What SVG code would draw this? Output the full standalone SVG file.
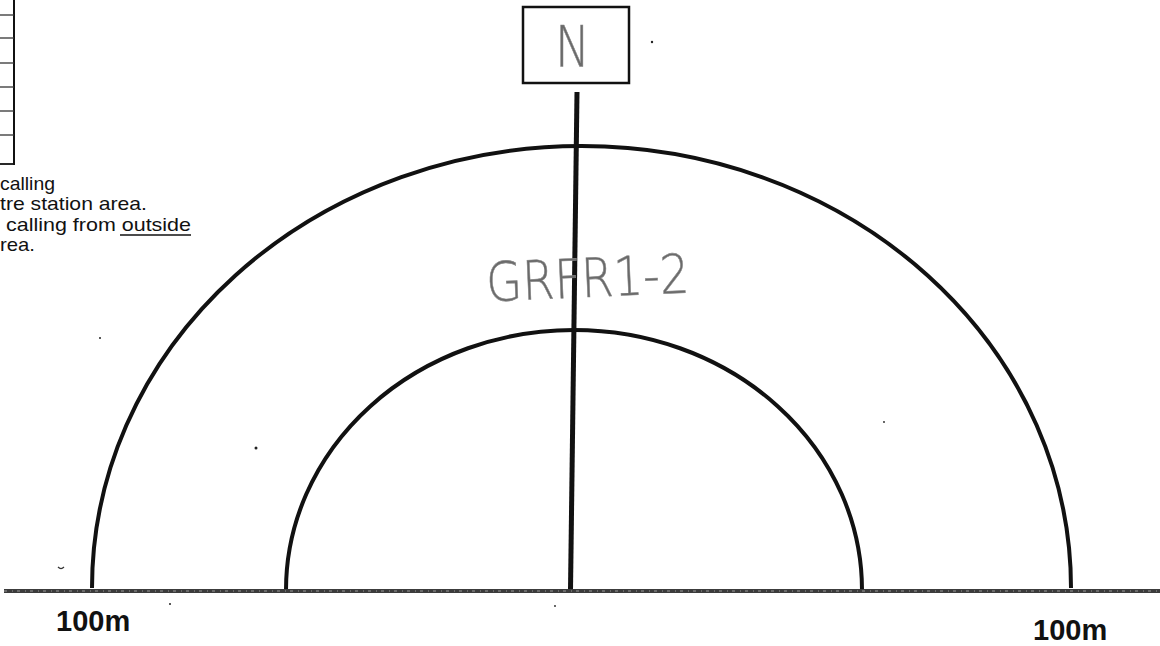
<svg xmlns="http://www.w3.org/2000/svg" width="1160" height="646" viewBox="0 0 1160 646">
  <style>
    .arch { fill: none; stroke: #111; stroke-width: 4; }
    .grid { stroke: #333; stroke-width: 1.3; }
    .note { font-family: "Liberation Sans", Arial, sans-serif; font-size: 19px; fill: #111; }
    .scale { font-family: "Liberation Sans", Arial, sans-serif; font-size: 29px; font-weight: bold; fill: #111; }
    .hand { font-family: "DejaVu Sans", sans-serif; font-weight: 200; fill: #6a6a6a; stroke: #888; stroke-width: 0.6; }
    .dot { fill: #222; }
  </style>
  <rect width="1160" height="646" fill="#ffffff"/>

  <!-- partial table at top-left -->
  <g id="table">
    <line x1="14" y1="0" x2="14" y2="165" stroke="#111" stroke-width="2"/>
    <line class="grid" x1="0" y1="15" x2="14" y2="15"/>
    <line class="grid" x1="0" y1="38" x2="14" y2="38"/>
    <line class="grid" x1="0" y1="63" x2="14" y2="63"/>
    <line class="grid" x1="0" y1="87" x2="14" y2="87"/>
    <line class="grid" x1="0" y1="111" x2="14" y2="111"/>
    <line class="grid" x1="0" y1="135" x2="14" y2="135"/>
    <line x1="0" y1="164" x2="15" y2="164" stroke="#111" stroke-width="1.8"/>
  </g>

  <!-- notes -->
  <g id="notes">
    <text class="note" x="0" y="190" textLength="55" lengthAdjust="spacingAndGlyphs">calling</text>
    <text class="note" x="0" y="210" textLength="147" lengthAdjust="spacingAndGlyphs">tre station area.</text>
    <text class="note" x="6" y="231" textLength="185" lengthAdjust="spacingAndGlyphs">calling from outside</text>
    <line x1="120" y1="235" x2="191" y2="235" stroke="#111" stroke-width="1.3"/>
    <text class="note" x="0" y="251" textLength="35" lengthAdjust="spacingAndGlyphs">rea.</text>
  </g>

  <!-- north marker -->
  <g id="north">
    <rect x="523" y="7" width="106" height="76" fill="none" stroke="#111" stroke-width="2.5"/>
    <text class="hand" x="555" y="67" font-size="57" textLength="35" lengthAdjust="spacingAndGlyphs">N</text>
  </g>

  <!-- arches -->
  <g id="outer-arch">
    <path class="arch" d="M92,588 A489.5,442 0 0 1 1071,588"/>
  </g>
  <g id="inner-arch">
    <path class="arch" d="M286,590 A288,260 0 0 1 862,590"/>
  </g>

  <!-- connectors: north line and base line -->
  <g id="connectors">
    <line x1="577" y1="92" x2="570.5" y2="590" stroke="#111" stroke-width="5"/>
    <line x1="4" y1="591" x2="1160" y2="591" stroke="#3c3c3c" stroke-width="4"/>
    <line x1="4" y1="591" x2="1160" y2="591" stroke="#9a9a9a" stroke-width="1" stroke-dasharray="3 5 1 4"/>
  </g>

  <!-- handwritten label -->
  <g id="label">
    <text class="hand" x="487" y="297" font-size="54" textLength="203" lengthAdjust="spacingAndGlyphs" transform="rotate(-2.5 587 297)">GRFR1-2</text>
  </g>

  <!-- scale labels -->
  <g id="scale-labels">
    <text class="scale" x="56" y="631">100m</text>
    <text class="scale" x="1033" y="640">100m</text>
  </g>

  <!-- specks -->
  <g id="specks">
    <circle class="dot" cx="652" cy="42" r="1.2"/>
    <circle class="dot" cx="100" cy="338" r="1"/>
    <circle class="dot" cx="256" cy="448" r="1.5"/>
    <circle class="dot" cx="884" cy="422" r="0.9"/>
    <circle class="dot" cx="170" cy="604" r="1"/>
    <circle class="dot" cx="555" cy="606" r="0.9"/>
    <path d="M58,567 q3,3 6,0" fill="none" stroke="#333" stroke-width="1.2"/>
  </g>
</svg>
